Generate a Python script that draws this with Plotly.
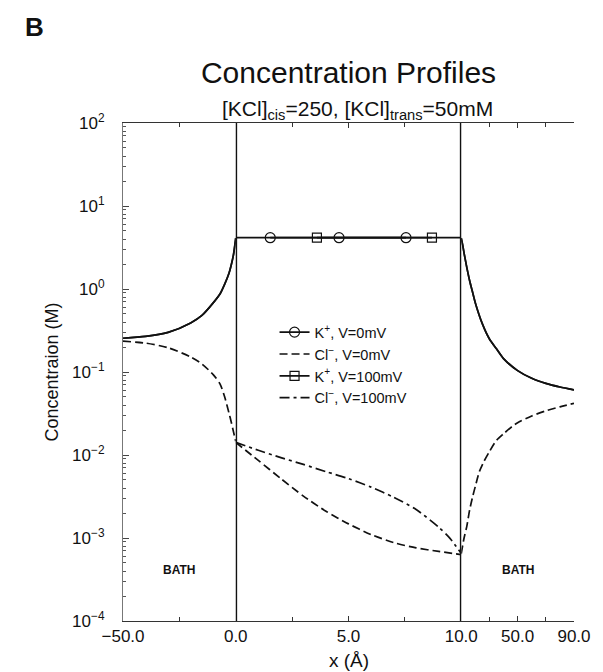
import plotly.graph_objects as go

# ---- data -------------------------------------------------------------
# cis bath (x in Angstrom, concentrations in M)
x_left = [-50, -40, -30, -20, -15, -10, -7, -5, -3, -2, -1, 0]
k_left = [0.255, 0.268, 0.30, 0.39, 0.48, 0.68, 0.87, 1.13, 1.55, 1.95, 2.6, 4.1]
cl_left = [0.235, 0.223, 0.196, 0.152, 0.125, 0.093, 0.072, 0.051, 0.032, 0.025, 0.019, 0.0146]

# channel interior
x_chan = [0, 10]
k_chan = [4.15, 4.15]
k0_mark_x = [1.53, 4.58, 7.55]
k100_mark_x = [3.6, 8.7]
x_cl_chan = [0, 1, 2, 3, 4, 5, 6, 7, 8, 9, 10]
cl0_chan = [0.0142, 0.0086, 0.0052, 0.0032, 0.0021, 0.00148, 0.00110, 0.00088, 0.00076, 0.00069, 0.00063]
x_cl100_chan = [0, 1, 2, 3, 4, 5, 6, 7, 8, 9, 9.5, 10]
cl100_chan = [0.0142, 0.0114, 0.0093, 0.0077, 0.0063, 0.0052, 0.0041, 0.0031, 0.0022, 0.00135, 0.00099, 0.00065]

# trans bath
x_right_k = [10, 11, 12, 14, 16, 18, 20, 25, 30, 35, 40, 50, 60, 70, 80, 90]
k_right = [4.1, 3.4, 2.7, 1.8, 1.25, 0.92, 0.68, 0.38, 0.25, 0.19, 0.145, 0.104, 0.084, 0.073, 0.066, 0.061]
x_right_cl = [10, 12, 14, 16, 18, 20, 23, 26, 30, 35, 40, 46, 50, 60, 70, 80, 90]
cl_right = [0.00065, 0.0010, 0.0014, 0.0022, 0.0031, 0.0042, 0.0064, 0.0083, 0.011, 0.015, 0.018,
            0.022, 0.0245, 0.0295, 0.034, 0.038, 0.042]

y_tick_vals = [1e-4, 1e-3, 1e-2, 1e-1, 1e0, 1e1, 1e2]
y_tick_text = ["10<sup>−4</sup>", "10<sup>−3</sup>", "10<sup>−2</sup>", "10<sup>−1</sup>",
               "10<sup>0</sup>", "10<sup>1</sup>", "10<sup>2</sup>"]
y_minor = [m * 10 ** e for e in range(-4, 2) for m in range(2, 10)]

FONT = "Liberation Sans, Arial, Helvetica, sans-serif"
BLACK = "#111111"
DASH_CL0 = "8px,4px"
DASH_CL100 = "10px,4px,3px,4px"

fig = go.Figure()


def add(x, y, xa, name=None, group=None, dash="solid", mode="lines", symbol=None,
        show=False, rank=None, msize=10, smooth=True):
    kw = {}
    if symbol:
        kw["marker"] = dict(symbol=symbol, size=msize, color=BLACK,
                            line=dict(color=BLACK, width=1.2))
    line = dict(color=BLACK, width=1.7, dash=dash)
    if smooth:
        line.update(shape="spline", smoothing=0.7)
    fig.add_trace(go.Scatter(
        x=x, y=y, xaxis=xa, yaxis="y", mode=mode, name=name,
        legendgroup=group, showlegend=show, legendrank=rank, line=line, **kw))


# K+, V=0mV
add(x_left, k_left, "x", group="k0")
add(x_chan, k_chan, "x2", group="k0", smooth=False)
add(x_right_k, k_right, "x3", group="k0")
add(k0_mark_x, [k_chan[0]] * len(k0_mark_x), "x2", name="K<sup>+</sup>, V=0mV",
    group="k0", mode="lines+markers", symbol="circle-open", show=True, rank=1, msize=10,
    smooth=False)

# Cl-, V=0mV
add(x_left, cl_left, "x", group="cl0", dash=DASH_CL0)
add(x_cl_chan, cl0_chan, "x2", name="Cl<sup>−</sup>, V=0mV", group="cl0",
    dash=DASH_CL0, show=True, rank=2)
add(x_right_cl, cl_right, "x3", group="cl0", dash=DASH_CL0)

# K+, V=100mV
add(x_left, k_left, "x", group="k100")
add(x_right_k, k_right, "x3", group="k100")
add(k100_mark_x, [k_chan[0]] * len(k100_mark_x), "x2", name="K<sup>+</sup>, V=100mV",
    group="k100", mode="lines+markers", symbol="square-open", show=True, rank=3, msize=9,
    smooth=False)

# Cl-, V=100mV
add(x_cl100_chan, cl100_chan, "x2", name="Cl<sup>−</sup>, V=100mV", group="cl100",
    dash=DASH_CL100, show=True, rank=4)

tickfont = dict(family=FONT, size=17, color=BLACK)
xcommon = dict(showgrid=False, zeroline=False, showline=True, linecolor="#333333", linewidth=1,
               ticks="inside", ticklen=5, tickcolor="#333333", mirror="ticks", anchor="y",
               tickfont=tickfont, tickmode="array")

ycommon = dict(type="log", range=[-4, 2], showgrid=False, zeroline=False, showline=True,
               linecolor="#777777", linewidth=1, ticks="inside", ticklen=6, tickcolor="#444444",
               tickmode="array", tickvals=y_tick_vals,
               minor=dict(tickmode="array", tickvals=y_minor, ticks="inside", ticklen=3,
                          tickcolor="#555555", showgrid=False))

fig.update_layout(
    width=603, height=672,
    margin=dict(l=123, r=20, t=123, b=51),
    paper_bgcolor="white", plot_bgcolor="white",
    font=dict(family=FONT, color=BLACK),
    xaxis=dict(domain=[0, 0.25], range=[-50, 0], tickvals=[-50], ticktext=["−50.0"],
               minor=dict(tickmode="array", tickvals=[-25], ticks="inside", ticklen=4,
                          tickcolor="#333333"), **xcommon),
    xaxis2=dict(domain=[0.25, 0.75], range=[0, 10], tickvals=[0, 5, 10],
                ticktext=["0.0", "5.0", "10.0"],
                minor=dict(tickmode="array", tickvals=[2.5, 7.5], ticks="inside", ticklen=4,
                           tickcolor="#333333"), **xcommon),
    xaxis3=dict(domain=[0.75, 1], range=[10, 90], tickvals=[50, 90],
                ticktext=["50.0", "90.0"],
                minor=dict(tickmode="array", tickvals=[30, 70], ticks="inside", ticklen=4,
                           tickcolor="#333333"), **xcommon),
    yaxis=dict(anchor="x", ticktext=y_tick_text, tickfont=tickfont, ticklabelstandoff=14,
               title=dict(text="Concentraion (M)", font=dict(family=FONT, size=18, color=BLACK),
                          standoff=8),
               **ycommon),
    yaxis2=dict(anchor="x3", overlaying="y", side="right", showticklabels=False, **ycommon),
    showlegend=True,
    legend=dict(x=0.336, y=0.612, xanchor="left", yanchor="top", bgcolor="rgba(0,0,0,0)",
                font=dict(family=FONT, size=14.5, color=BLACK), tracegroupgap=0,
                traceorder="normal"),
    title=dict(text="Concentration Profiles", x=0.5, xref="paper", y=1 - 72 / 672,
               yref="container", yanchor="middle", xanchor="center",
               font=dict(family=FONT, size=30, color=BLACK)),
)

# channel boundaries at x = 0 and x = 10
for xv in (0, 10):
    fig.add_shape(type="line", xref="x2", yref="paper", x0=xv, x1=xv, y0=0, y1=1,
                  line=dict(color=BLACK, width=2.8))

fig.add_annotation(text="[KCl]<sub>cis</sub>=250, [KCl]<sub>trans</sub>=50mM",
                   xref="paper", yref="paper", x=(362 - 123) / 460, y=(621 - 110) / 498,
                   xanchor="center", yanchor="middle", showarrow=False,
                   font=dict(family=FONT, size=21, color=BLACK))
fig.add_annotation(text="x (Å)", xref="paper", yref="paper", x=0.5, y=(621 - 660) / 498,
                   xanchor="center", yanchor="middle", showarrow=False,
                   font=dict(family=FONT, size=19, color=BLACK))
fig.add_annotation(text="<b>B</b>", xref="paper", yref="paper",
                   x=(33 - 123) / 460, y=(621 - 27) / 498, xanchor="center", yanchor="middle",
                   showarrow=False, font=dict(family=FONT, size=26, color=BLACK))
fig.add_annotation(text="<b>BATH</b>", xref="x", yref="y", x=-25, y=-3.39, showarrow=False,
                   font=dict(family=FONT, size=12, color=BLACK))
fig.add_annotation(text="<b>BATH</b>", xref="x3", yref="y", x=50, y=-3.39, showarrow=False,
                   font=dict(family=FONT, size=12, color=BLACK))

fig.write_html("out.html")
